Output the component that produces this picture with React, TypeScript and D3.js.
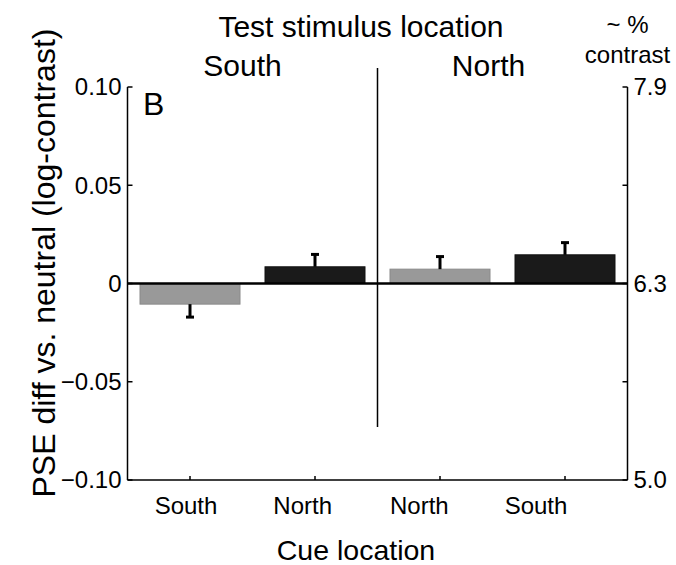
import React from "react";
import * as d3 from "d3";

// cue location per bar, grouped by test stimulus location
const cues = ["South", "North", "North", "South"];
const barKeys = ["s-s", "s-n", "n-n", "n-s"];
const pseDiff = [-0.0105, 0.0085, 0.0073, 0.0146];
const sem = [0.0066, 0.0063, 0.0064, 0.0062];
const barColors = ["#999999", "#1a1a1a", "#999999", "#1a1a1a"];

const leftTicks = [-0.1, -0.05, 0, 0.05, 0.1];
const leftTickLabels = ["\u22120.10", "\u22120.05", "0", "0.05", "0.10"];
const rightTicks = [-0.1, -0.05, 0, 0.05, 0.1];
const rightTickLabels = ["5.0", "", "6.3", "", "7.9"];
const groups = ["South", "North"];

const W = 676;
const H = 565;
const left = 127.5;
const right = 627.5;
const top = 87;
const bottom = 480;
const FONT = "'Liberation Sans', Arial, Helvetica, sans-serif";

export default function App() {
  const x = d3
    .scaleBand()
    .domain(barKeys)
    .range([left, right])
    .paddingInner(0.2)
    .paddingOuter(0.1);
  const y = d3.scaleLinear().domain([-0.1, 0.1]).range([bottom, top]);

  // the cue labels sit a little left of the bars in the figure
  const labelX = d3.scalePoint().domain(barKeys).range([left + 58.5, right - 91.5]);
  const groupX = d3.scalePoint().domain(groups).range([left + 115, right - 139]).padding(0);

  const midX = (x(barKeys[1])! + x.bandwidth() + x(barKeys[2])!) / 2;

  return (
    <svg
      width={W}
      height={H}
      style={{ position: "absolute", left: 0, top: 0, background: "#fff" }}
      fontFamily={FONT}
    >
      {/* bars */}
      {pseDiff.map((v, i) => (
        <rect
          key={barKeys[i]}
          x={x(barKeys[i])}
          y={Math.min(y(v), y(0))}
          width={x.bandwidth()}
          height={Math.abs(y(v) - y(0))}
          fill={barColors[i]}
          stroke={i % 2 === 0 ? "#8a8a8a" : "#111"}
          strokeWidth={1}
        />
      ))}

      {/* error bars (one-sided) */}
      {pseDiff.map((v, i) => {
        const cx = x(barKeys[i])! + x.bandwidth() / 2;
        const end = v < 0 ? v - sem[i] : v + sem[i];
        return (
          <g key={"e" + i}>
            <line x1={cx} x2={cx} y1={y(v)} y2={y(end)} stroke="#000" strokeWidth={3} />
            <line x1={cx - 4} x2={cx + 4} y1={y(end)} y2={y(end)} stroke="#000" strokeWidth={3} />
          </g>
        );
      })}

      {/* zero line */}
      <line x1={left} x2={right} y1={y(0)} y2={y(0)} stroke="#000" strokeWidth={2.5} />

      {/* divider */}
      <line x1={midX} x2={midX} y1={68} y2={y(-0.073)} stroke="#000" strokeWidth={1.5} />

      {/* left axis */}
      <line x1={left} x2={left} y1={y(0.1)} y2={y(-0.1)} stroke="#000" strokeWidth={1.5} />
      {leftTicks.map((t, i) => (
        <g key={"lt" + i}>
          <line x1={left} x2={left + 5} y1={y(t)} y2={y(t)} stroke="#000" strokeWidth={1.5} />
          <text
            x={left - 6}
            y={y(t)}
            dy="0.35em"
            textAnchor="end"
            fontSize={24}
          >
            {leftTickLabels[i]}
          </text>
        </g>
      ))}

      {/* right axis */}
      <line x1={right} x2={right} y1={y(0.1)} y2={y(-0.1)} stroke="#000" strokeWidth={1.5} />
      {rightTicks.map((t, i) => (
        <g key={"rt" + i}>
          <line x1={right - 5} x2={right} y1={y(t)} y2={y(t)} stroke="#000" strokeWidth={1.5} />
          <text x={right + 6} y={y(t)} dy="0.35em" textAnchor="start" fontSize={24}>
            {rightTickLabels[i]}
          </text>
        </g>
      ))}
      <text x={right} y={33} textAnchor="middle" fontSize={24}>~ %</text>
      <text x={right} y={63} textAnchor="middle" fontSize={24}>contrast</text>

      {/* bottom axis */}
      <line x1={left} x2={right} y1={y(-0.1)} y2={y(-0.1)} stroke="#000" strokeWidth={1.5} />
      {barKeys.map((k) => (
        <line
          key={"bt" + k}
          x1={x(k)! + x.bandwidth() / 2}
          x2={x(k)! + x.bandwidth() / 2}
          y1={y(-0.1)}
          y2={y(-0.1) - 4}
          stroke="#000"
          strokeWidth={1.5}
        />
      ))}
      {barKeys.map((k, i) => (
        <text key={"bl" + k} x={labelX(k)} y={514} textAnchor="middle" fontSize={24}>
          {cues[i]}
        </text>
      ))}
      <text x={356} y={560} textAnchor="middle" fontSize={28.5}>Cue location</text>

      {/* top headers */}
      <text x={361} y={37} textAnchor="middle" fontSize={30}>Test stimulus location</text>
      {groups.map((g) => (
        <text key={g} x={groupX(g)} y={76} textAnchor="middle" fontSize={30}>
          {g}
        </text>
      ))}

      {/* panel letter */}
      <text x={143} y={115} fontSize={32}>B</text>

      {/* y label */}
      <text
        transform={`translate(55, 263) rotate(-90)`}
        textAnchor="middle"
        fontSize={32}
      >
        PSE diff vs. neutral (log-contrast)
      </text>
    </svg>
  );
}
